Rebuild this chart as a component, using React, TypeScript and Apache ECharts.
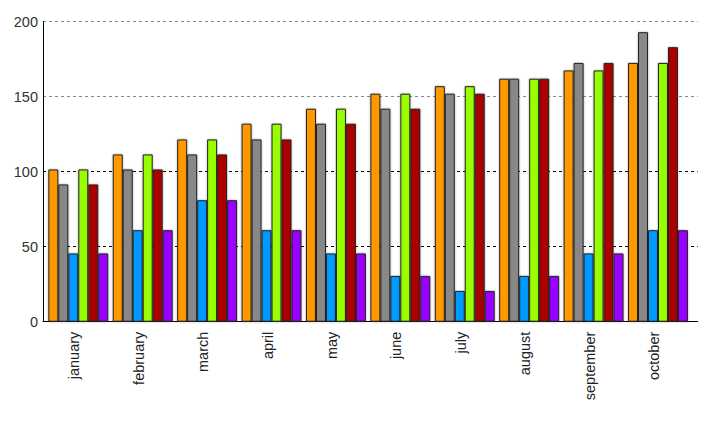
import React, { useEffect, useRef } from "react";
import * as echarts from "echarts";

const categories = ["january", "february", "march", "april", "may", "june", "july", "august", "september", "october"];
const seriesNames = ["s1", "s2", "s3", "s4", "s5", "s6"];
const orangeValues = [101.5, 111.5, 121.5, 132, 142, 152, 157, 162, 167.5, 172.5];
const grayValues = [91.5, 101.5, 111.5, 121.5, 132, 142, 152, 162, 172.5, 193];
const blueValues = [45.5, 61, 81, 61, 45.5, 30.5, 20.5, 30.5, 45.5, 61];
const greenValues = [101.5, 111.5, 121.5, 132, 142, 152, 157, 162, 167.5, 172.5];
const redValues = [91.5, 101.5, 111.5, 121.5, 132, 142, 152, 162, 172.5, 183];
const purpleValues = [45.5, 61, 81, 61, 45.5, 30.5, 20.5, 30.5, 45.5, 61];
const colors = ["#FF9900", "#888888", "#0099FF", "#99FF00", "#AA0000", "#9900FF"];
const yMin = 0;
const yMax = 200;
const yInterval = 50;

export default function App() {
  const ref = useRef<HTMLDivElement>(null);
  useEffect(() => {
    document.body.style.margin = "0";
    const chart = echarts.init(ref.current!, null, { renderer: "svg" });
    const allValues = [orangeValues, grayValues, blueValues, greenValues, redValues, purpleValues];
    const font = "'Liberation Sans', Arial, sans-serif";
    chart.setOption({
      animation: false,
      grid: [
        { left: 43, right: 21.3, top: 21.7, bottom: 106.3 },
        { left: 46.1, right: 28.8, top: 21.7, bottom: 106.3 },
      ],
      xAxis: [
        {
          gridIndex: 0,
          type: "value",
          min: 0,
          max: 1,
          axisLine: { show: true, lineStyle: { color: "#000", width: 1 } },
          axisTick: { show: false },
          axisLabel: { show: false },
          splitLine: { show: false },
        },
        {
          gridIndex: 1,
          type: "category",
          data: categories,
          axisLine: { show: false },
          axisTick: { show: false },
          axisLabel: {
            rotate: 90,
            margin: 10,
            color: "#222",
            fontSize: 14.5,
            fontFamily: font,
            interval: 0,
            verticalAlign: "bottom",
            lineHeight: 8,
          },
          splitLine: { show: false },
        },
      ],
      yAxis: [
        {
          gridIndex: 0,
          type: "value",
          min: yMin,
          max: yMax,
          interval: yInterval,
          axisLine: { show: true, lineStyle: { color: "#000", width: 1 } },
          axisTick: { show: false },
          axisLabel: { margin: 5, color: "#333", fontSize: 14.5, fontFamily: font },
          splitLine: {
            show: true,
            lineStyle: { color: ["#000", "#000", "#000", "#888", "#888"], type: [3, 3], width: 1 },
          },
        },
        {
          gridIndex: 1,
          type: "value",
          min: yMin,
          max: yMax,
          interval: yInterval,
          show: false,
        },
      ],
      series: allValues.map((vals, i) => ({
        name: seriesNames[i],
        type: "bar",
        xAxisIndex: 1,
        yAxisIndex: 1,
        data: vals,
        barGap: "0%",
        barCategoryGap: "7%",
        itemStyle: {
          color: colors[i],
          borderColor: "#222",
          borderWidth: 1,
          shadowColor: "rgba(0,0,0,0.35)",
          shadowBlur: 2,
        },
      })),
    });
    return () => chart.dispose();
  }, []);
  return <div ref={ref} style={{ width: 719, height: 428 }} />;
}
